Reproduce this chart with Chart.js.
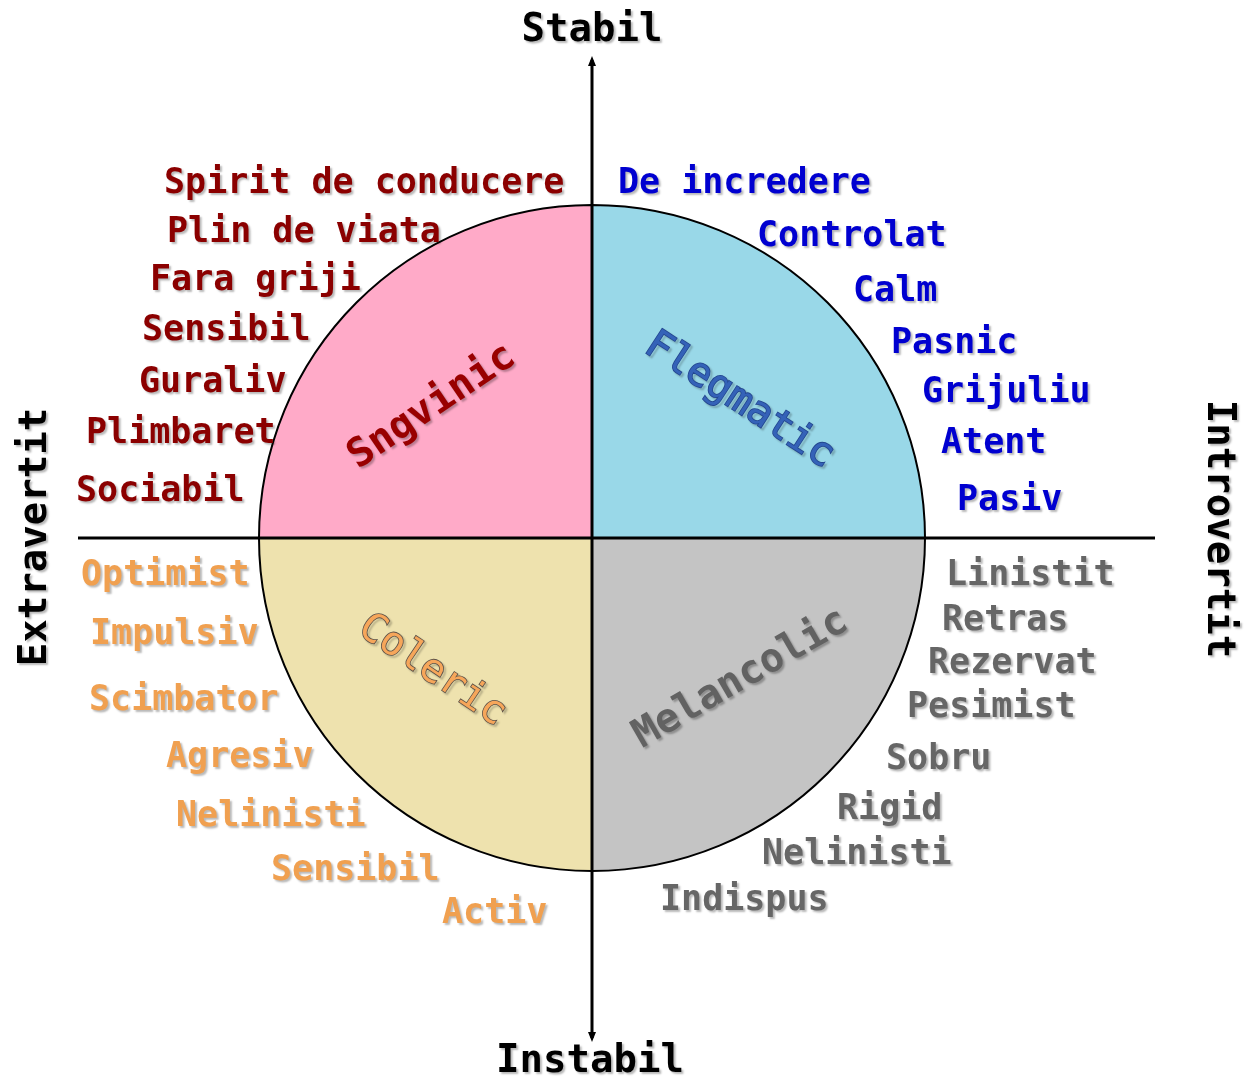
<!DOCTYPE html>
<html>
<head>
<meta charset="utf-8">
<title>Temperamente</title>
<script src="https://cdn.jsdelivr.net/npm/chart.js@4"></script>
<style>
  html, body { margin: 0; padding: 0; background: #fff; }
  canvas { display: block; }
</style>
</head>
<body>
<canvas id="tempChart" width="1244" height="1080"></canvas>
<script>
// data
const temperaments = ["Flegmatic", "Melancolic", "Coleric", "Sngvinic"];
const shares = [1, 1, 1, 1];
const sliceColors = ["#99d8e8", "#c4c4c4", "#eee2ae", "#ffaac8"];

const sngvinicTraits = ["Spirit de conducere", "Plin de viata", "Fara griji", "Sensibil", "Guraliv", "Plimbaret", "Sociabil"];
const flegmaticTraits = ["De incredere", "Controlat", "Calm", "Pasnic", "Grijuliu", "Atent", "Pasiv"];
const colericTraits = ["Optimist", "Impulsiv", "Scimbator", "Agresiv", "Nelinisti", "Sensibil", "Activ"];
const melancolicTraits = ["Linistit", "Retras", "Rezervat", "Pesimist", "Sobru", "Rigid", "Nelinisti", "Indispus"];

const axisTop = "Stabil";
const axisBottom = "Instabil";
const axisLeft = "Extravertit";
const axisRight = "Introvertit";

// layout (left x, middle y) for each trait word
const sngvinicPos = [[164,184],[167,233],[150,281],[142,331],[139,383],[86,434],[76,492]];
const flegmaticPos = [[618,184],[757,237],[853,292],[891,344],[922,393],[941,444],[957,501]];
const colericPos = [[81,576],[90,635],[89,701],[166,758],[176,817],[271,871],[442,914]];
const melancolicPos = [[946,576],[942,621],[928,664],[907,708],[886,760],[837,810],[762,855],[660,901]];

const MONO = '"DejaVu Sans Mono", "Liberation Mono", monospace';

function shadowOn(c) {
  c.shadowColor = "rgba(0,0,0,0.28)";
  c.shadowOffsetX = 2;
  c.shadowOffsetY = 2;
  c.shadowBlur = 2;
}

function drawWords(c, words, pos, color) {
  c.save();
  c.font = "bold 35px " + MONO;
  c.fillStyle = color;
  c.textAlign = "left";
  c.textBaseline = "middle";
  shadowOn(c);
  words.forEach((w, i) => c.fillText(w, pos[i][0], pos[i][1]));
  c.restore();
}

function drawSliceName(c, text, x, y, deg, fill, stroke, bold) {
  c.save();
  c.translate(x, y);
  c.rotate(deg * Math.PI / 180);
  c.font = (bold ? "bold " : "") + "40px " + MONO;
  c.textAlign = "center";
  c.textBaseline = "middle";
  shadowOn(c);
  if (stroke) {
    c.lineWidth = 1.6;
    c.strokeStyle = stroke;
    c.strokeText(text, 0, 0);
    c.shadowColor = "transparent";
  }
  c.fillStyle = fill;
  c.fillText(text, 0, 0);
  c.restore();
}

const overlay = {
  id: "overlay",
  afterDraw(chart) {
    const c = chart.ctx;
    const arc = chart.getDatasetMeta(0).data[0];
    const cx = arc.x, cy = arc.y;

    // axes
    c.save();
    c.strokeStyle = "#000";
    c.lineWidth = 3;
    c.beginPath();
    c.moveTo(cx, 60); c.lineTo(cx, 1038);
    c.moveTo(78, cy); c.lineTo(1155, cy);
    c.stroke();
    c.fillStyle = "#000";
    c.beginPath();
    c.moveTo(cx, 56); c.lineTo(cx - 4, 66); c.lineTo(cx + 4, 66); c.closePath();
    c.moveTo(cx, 1042); c.lineTo(cx - 4, 1032); c.lineTo(cx + 4, 1032); c.closePath();
    c.fill();
    c.restore();

    // axis titles
    c.save();
    c.font = "bold 39px " + MONO;
    c.fillStyle = "#000";
    c.textAlign = "center";
    c.textBaseline = "middle";
    shadowOn(c);
    c.fillText(axisTop, 592, 31);
    c.fillText(axisBottom, 590, 1062);
    c.save();
    c.translate(36, 537);
    c.rotate(-Math.PI / 2);
    c.fillText(axisLeft, 0, 0);
    c.restore();
    c.save();
    c.translate(1218, 529);
    c.rotate(Math.PI / 2);
    c.fillText(axisRight, 0, 0);
    c.restore();
    c.restore();

    // slice names
    drawSliceName(c, temperaments[3], 432, 407, -34, "#990000", null, true);
    drawSliceName(c, temperaments[0], 739, 401, 33, "#3462b8", "#23468f", false);
    drawSliceName(c, temperaments[2], 432, 671, 34, "#f6a65a", "#5a5048", false);
    drawSliceName(c, temperaments[1], 741, 679, -30, "#626262", null, true);

    // trait words
    drawWords(c, sngvinicTraits, sngvinicPos, "#8b0000");
    drawWords(c, flegmaticTraits, flegmaticPos, "#0000d0");
    drawWords(c, colericTraits, colericPos, "#f0a050");
    drawWords(c, melancolicTraits, melancolicPos, "#666666");
  }
};

new Chart(document.getElementById("tempChart").getContext("2d"), {
  type: "pie",
  data: {
    labels: temperaments,
    datasets: [{
      data: shares,
      backgroundColor: sliceColors,
      borderColor: "#000",
      borderWidth: 2
    }]
  },
  options: {
    responsive: false,
    animation: false,
    layout: { padding: { left: 258, top: 204, right: 318, bottom: 208 } },
    plugins: {
      legend: { display: false },
      tooltip: { enabled: false }
    }
  },
  plugins: [overlay]
});
</script>
</body>
</html>
